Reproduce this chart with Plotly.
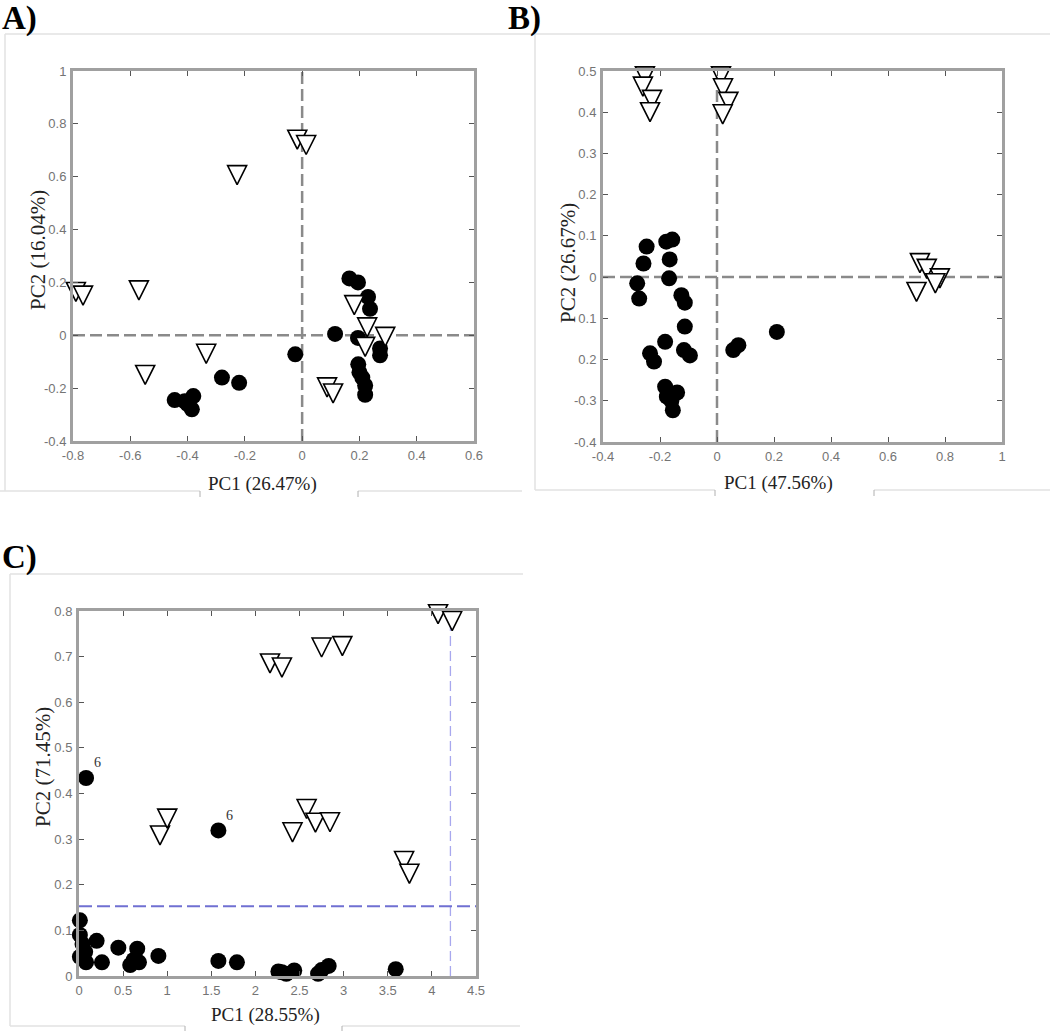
import plotly.graph_objects as go

W, H = 1050, 1031

# ---------------- data ----------------
# Panel A
a_tri_x = [-0.017, 0.014, -0.227, -0.79, -0.765, -0.57, -0.335, -0.548, 0.087, 0.108, 0.182, 0.227, 0.29, 0.22]
a_tri_y = [0.74, 0.72, 0.606, 0.164, 0.15, 0.17, -0.07, -0.15, -0.197, -0.22, 0.114, 0.03, -0.006, -0.044]
a_circ_x = [-0.445, -0.41, -0.38, -0.385, -0.40, -0.28, -0.22, -0.024, 0.115, 0.165, 0.195, 0.23, 0.237,
            0.195, 0.272, 0.272, 0.196, 0.20, 0.22, 0.22, 0.21]
a_circ_y = [-0.245, -0.25, -0.23, -0.28, -0.26, -0.16, -0.18, -0.072, 0.005, 0.215, 0.20, 0.145, 0.10,
            -0.01, -0.05, -0.076, -0.11, -0.14, -0.19, -0.225, -0.16]
a_x_ticks = [-0.8, -0.6, -0.4, -0.2, 0, 0.2, 0.4, 0.6]
a_x_labels = ["-0.8", "-0.6", "-0.4", "-0.2", "0", "0.2", "0.4", "0.6"]
a_y_ticks = [-0.4, -0.2, 0, 0.2, 0.4, 0.6, 0.8, 1]
a_y_labels = ["-0.4", "-0.2", "0", "0.2", "0.4", "0.6", "0.8", "1"]
a_ref = (0, 0)

# Panel B
b_tri_x = [-0.253, -0.26, -0.228, -0.235, 0.014, 0.021, 0.04, 0.02, 0.712, 0.736, 0.782, 0.70, 0.766]
b_tri_y = [0.487, 0.462, 0.43, 0.40, 0.487, 0.458, 0.425, 0.395, 0.034, 0.02, -0.003, -0.036, -0.015]
b_circ_x = [-0.247, -0.258, -0.28, -0.273, -0.178, -0.157, -0.166, -0.168, -0.125, -0.113, -0.113, -0.116,
            -0.095, -0.182, -0.235, -0.221, -0.182, -0.176, -0.14, -0.16, -0.155, 0.057, 0.075, 0.21]
b_circ_y = [0.074, 0.033, -0.015, -0.052, 0.086, 0.091, 0.043, -0.003, -0.044, -0.062, -0.12, -0.177,
            -0.19, -0.157, -0.185, -0.205, -0.266, -0.29, -0.28, -0.30, -0.323, -0.177, -0.165, -0.133]
b_x_ticks = [-0.4, -0.2, 0, 0.2, 0.4, 0.6, 0.8, 1]
b_x_labels = ["-0.4", "-0.2", "0", "0.2", "0.4", "0.6", "0.8", "1"]
b_y_ticks = [-0.4, -0.3, -0.2, -0.1, 0, 0.1, 0.2, 0.3, 0.4, 0.5]
b_y_labels = ["-0.4", "-0.3", "0.2", "0.1", "0", "0.1", "0.2", "0.3", "0.4", "0.5"]
b_ref = (0, 0)

# Panel C
c_tri_x = [4.07, 4.23, 2.165, 2.30, 2.75, 2.985, 0.918, 1.0, 2.42, 2.58, 2.68, 2.845, 3.685, 3.745]
c_tri_y = [0.793, 0.778, 0.685, 0.676, 0.72, 0.723, 0.308, 0.345, 0.315, 0.366, 0.336, 0.337, 0.252, 0.224]
c_circ_x = [0.08, 1.58, 0.01, 0.01, 0.04, 0.07, 0.01, 0.08, 0.2, 0.26, 0.446, 0.58, 0.66, 0.68, 0.9,
            1.58, 1.79, 2.26, 2.35, 2.44, 2.71, 2.75, 2.83, 3.59, 2.3, 0.62]
c_circ_y = [0.434, 0.319, 0.122, 0.09, 0.07, 0.053, 0.042, 0.03, 0.077, 0.03, 0.062, 0.024, 0.06, 0.03,
            0.044, 0.033, 0.03, 0.01, 0.005, 0.012, 0.005, 0.013, 0.022, 0.015, 0.008, 0.035]
c_labels = ["6", "6"]          # labels for the first two circles
c_x_ticks = [0, 0.5, 1, 1.5, 2, 2.5, 3, 3.5, 4, 4.5]
c_x_labels = ["0", "0.5", "1", "1.5", "2", "2.5", "3", "3.5", "4", "4.5"]
c_y_ticks = [0, 0.1, 0.2, 0.3, 0.4, 0.5, 0.6, 0.7, 0.8]
c_y_labels = ["0", "0.1", "0.2", "0.3", "0.4", "0.5", "0.6", "0.7", "0.8"]
c_ref = (4.21, 0.153)

titles = {
    "A": ("PC1 (26.47%)", "PC2 (16.04%)"),
    "B": ("PC1 (47.56%)", "PC2 (26.67%)"),
    "C": ("PC1 (28.55%)", "PC2 (71.45%)"),
}

# ---------------- layout helpers ----------------
def fx(p):
    return p / W


def fy(p):
    return 1 - p / H


SERIF = "Liberation Serif, Times New Roman, serif"
TICKFONT = dict(family="Liberation Sans Narrow, Arial Narrow, Liberation Sans, Arial", size=13, color="#747474")

panels = [
    dict(key="A", xa="x", ya="y", box=(73, 474, 71, 441), xr=[-0.8, 0.6], yr=[-0.4, 1],
         tri=(a_tri_x, a_tri_y), circ=(a_circ_x, a_circ_y),
         xt=(a_x_ticks, a_x_labels), yt=(a_y_ticks, a_y_labels), ref=a_ref,
         refcol=("#8a8a8a", "#8a8a8a"), refw=(2.5, 2.5), dash=("12px,5px", "12px,5px"),
         xtitle=(262, 484), ytitle=(38, 250)),
    dict(key="B", xa="x2", ya="y2", box=(603, 1002, 71, 442), xr=[-0.4, 1], yr=[-0.4, 0.5],
         tri=(b_tri_x, b_tri_y), circ=(b_circ_x, b_circ_y),
         xt=(b_x_ticks, b_x_labels), yt=(b_y_ticks, b_y_labels), ref=b_ref,
         refcol=("#8a8a8a", "#8a8a8a"), refw=(2.5, 2.5), dash=("12px,5px", "12px,5px"),
         xtitle=(778, 483), ytitle=(568, 263)),
    dict(key="C", xa="x3", ya="y3", box=(79, 476, 611, 976), xr=[0, 4.5], yr=[0, 0.8],
         tri=(c_tri_x, c_tri_y), circ=(c_circ_x, c_circ_y),
         xt=(c_x_ticks, c_x_labels), yt=(c_y_ticks, c_y_labels), ref=c_ref,
         refcol=("#a8a8ee", "#7070d2"), refw=(1.3, 2), dash=("10px,5px", "13px,5px"),
         xtitle=(265, 1015), ytitle=(43, 767)),
]

fig = go.Figure()
layout = dict(width=W, height=H, margin=dict(l=0, r=0, t=0, b=0, pad=0, autoexpand=False), autosize=False,
              paper_bgcolor="white", plot_bgcolor="white", showlegend=False)
shapes = []
annotations = []

for p in panels:
    x0, x1, y0, y1 = p["box"]
    xname = "xaxis" + p["xa"][1:]
    yname = "yaxis" + p["ya"][1:]
    common = dict(showline=True, linecolor="#a0a0a0", linewidth=3, mirror="ticks", ticks="inside",
                  ticklen=5, tickwidth=1, tickcolor="#555555", showgrid=False, zeroline=False,
                  tickfont=TICKFONT, fixedrange=True, automargin=False)
    layout[xname] = dict(domain=[fx(x0), fx(x1)], range=p["xr"], anchor=p["ya"],
                         tickvals=p["xt"][0], ticktext=p["xt"][1], **common)
    layout[yname] = dict(domain=[fy(y1), fy(y0)], range=p["yr"], anchor=p["xa"],
                         tickvals=p["yt"][0], ticktext=p["yt"][1], ticklabelstandoff=1, **common)

    # circles then triangles (triangles on top)
    fig.add_trace(go.Scatter(x=p["circ"][0], y=p["circ"][1], mode="markers", xaxis=p["xa"], yaxis=p["ya"],
                             marker=dict(symbol="circle", size=16, color="black", line=dict(width=0)),
                             cliponaxis=False, hoverinfo="skip"))
    fig.add_trace(go.Scatter(x=p["tri"][0], y=p["tri"][1], mode="markers", xaxis=p["xa"], yaxis=p["ya"],
                             marker=dict(symbol="arrow-down", size=19, color="white", standoff=9.5,
                                         line=dict(color="black", width=1.6)),
                             cliponaxis=False, hoverinfo="skip"))

    # dashed reference lines
    rx, ry = p["ref"]
    shapes.append(dict(type="line", xref=p["xa"], yref=p["ya"], x0=rx, x1=rx, y0=p["yr"][0], y1=p["yr"][1],
                       line=dict(color=p["refcol"][0], width=p["refw"][0], dash=p["dash"][0]), layer="below"))
    shapes.append(dict(type="line", xref=p["xa"], yref=p["ya"], x0=p["xr"][0], x1=p["xr"][1], y0=ry, y1=ry,
                       line=dict(color=p["refcol"][1], width=p["refw"][1], dash=p["dash"][1]), layer="below"))

    # axis titles
    xt, yt = titles[p["key"]]
    annotations.append(dict(text=xt, x=fx(p["xtitle"][0]), y=fy(p["xtitle"][1]), xref="paper", yref="paper",
                            xanchor="center", yanchor="middle", showarrow=False,
                            font=dict(family=SERIF, size=19, color="#222222")))
    annotations.append(dict(text=yt, x=fx(p["ytitle"][0]), y=fy(p["ytitle"][1]), xref="paper", yref="paper",
                            xanchor="center", yanchor="middle", showarrow=False, textangle=-90,
                            font=dict(family=SERIF, size=21, color="#222222")))

# point labels "6" in panel C
for i, lab in enumerate(c_labels):
    annotations.append(dict(text=lab, x=c_circ_x[i], y=c_circ_y[i], xref="x3", yref="y3",
                            xshift=11, yshift=15, showarrow=False,
                            font=dict(family=SERIF, size=14, color="#333333")))

# panel letters
for txt, px_, py_ in [("A)", 0, 18), ("B)", 506, 18), ("C)", 0, 557)]:
    annotations.append(dict(text="<b>" + txt + "</b>", x=fx(px_), y=fy(py_), xref="paper", yref="paper",
                            xanchor="left", yanchor="middle", showarrow=False,
                            font=dict(family=SERIF, size=33, color="black")))

# light frame lines around the panels (as in the source image)
FR = "#e2e2e2"


def pline(xa, ya, xb, yb, col=FR, w=1.5):
    shapes.append(dict(type="line", xref="paper", yref="paper", x0=fx(xa), y0=fy(ya), x1=fx(xb), y1=fy(yb),
                       line=dict(color=col, width=w), layer="below"))


pline(5, 34, 1050, 34)
pline(5, 34, 5, 491)
pline(0, 491, 200, 491)
pline(358, 491, 522, 491)
pline(200, 491, 200, 497, "#b0b0b0", 1)
pline(358, 491, 358, 497, "#b0b0b0", 1)
pline(535, 34, 535, 490)
pline(535, 490, 715, 490)
pline(874, 490, 1050, 490)
pline(715, 490, 715, 496, "#b0b0b0", 1)
pline(874, 490, 874, 496, "#b0b0b0", 1)
pline(10, 574, 523, 574)
pline(10, 574, 10, 1026)
pline(10, 1026, 185, 1026)
pline(342, 1026, 520, 1026)
pline(185, 1026, 185, 1031, "#b0b0b0", 1)
pline(342, 1026, 342, 1031, "#b0b0b0", 1)

layout["shapes"] = shapes
layout["annotations"] = annotations
fig.update_layout(**layout)
fig.write_html("out.html", config={"displayModeBar": False},
               post_script="document.body.style.margin='0';document.body.style.overflow='hidden';")
